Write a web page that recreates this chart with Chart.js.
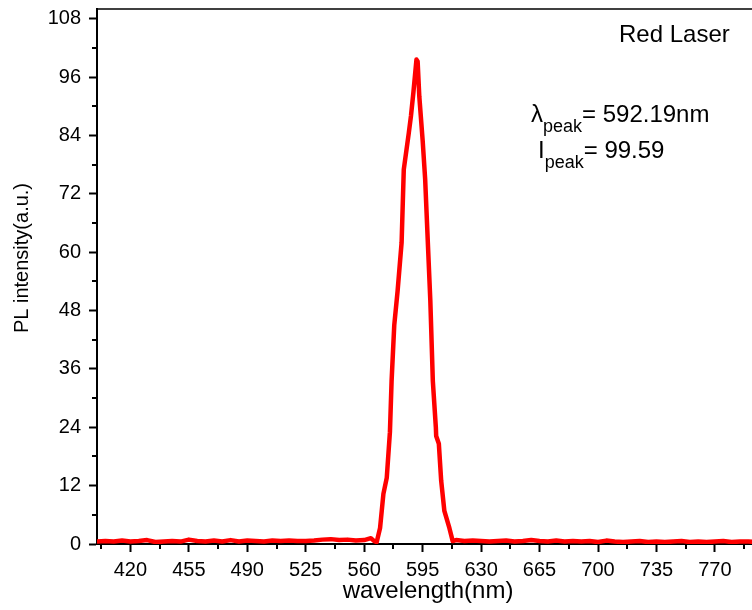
<!DOCTYPE html>
<html>
<head>
<meta charset="utf-8">
<title>Red Laser PL</title>
<script src="https://cdn.jsdelivr.net/npm/chart.js@4.4.1/dist/chart.umd.min.js"></script>
<style>
  html, body { margin: 0; padding: 0; overflow: hidden; background: #fff; }
  #wrap { width: 775px; height: 610px; position: relative; }
</style>
</head>
<body>
<div id="wrap"><canvas id="pl-chart"></canvas></div>
<script>
// données
const wavelength = [
  400, 405, 410, 415, 420, 425, 430, 435, 440, 445, 450, 455, 460, 465, 470, 475,
  480, 485, 490, 495, 500, 505, 510, 515, 520, 525, 530, 535, 540, 545, 550, 555,
  560, 564, 566, 567.5, 569.5, 571.5, 573.5, 575.4, 576.4, 578, 580, 582.4, 583.7,
  586.7, 588, 589.5, 591.3, 592, 593, 595, 596.5, 598.1, 599.6, 601.1, 602.9, 603.1,
  604.7, 606.1, 608, 611, 613, 615, 620, 625, 630, 635, 640, 645, 650, 655, 660,
  665, 670, 675, 680, 685, 690, 695, 700, 705, 710, 715, 720, 725, 730, 735, 740,
  745, 750, 755, 760, 765, 770, 775, 780, 785, 790, 795, 800
];
const intensity = [
  0.5, 0.6, 0.5, 0.7, 0.5, 0.6, 0.8, 0.4, 0.5, 0.6, 0.5, 0.9, 0.6, 0.5, 0.7, 0.5,
  0.8, 0.5, 0.7, 0.6, 0.5, 0.7, 0.6, 0.7, 0.6, 0.6, 0.7, 0.9, 1.0, 0.8, 0.9, 0.7,
  0.8, 1.2, 0.6, 0.4, 3.3, 10.3, 13.6, 23, 33.5, 45, 52, 62, 77,
  84.5, 88, 93, 99.6, 99.2, 92, 83, 75, 62, 50, 33.5, 24, 22.2,
  20.6, 13, 6.8, 3.3, 0.6, 0.8, 0.6, 0.7, 0.6, 0.5, 0.6, 0.7, 0.5, 0.6, 0.8,
  0.6, 0.5, 0.7, 0.5, 0.6, 0.5, 0.6, 0.4, 0.7, 0.5, 0.4, 0.5, 0.6, 0.4, 0.5, 0.4,
  0.5, 0.6, 0.4, 0.5, 0.4, 0.5, 0.6, 0.4, 0.5, 0.5, 0.4, 0.5
];
const xTicks = [420, 455, 490, 525, 560, 595, 630, 665, 700, 735, 770];
const xMinorTicks = [402.5, 437.5, 472.5, 507.5, 542.5, 577.5, 612.5, 647.5, 682.5, 717.5, 752.5, 787.5];
const yTicks = [0, 12, 24, 36, 48, 60, 72, 84, 96, 108];
const yMinorTicks = [6, 18, 30, 42, 54, 66, 78, 90, 102];

const FONT = "'Liberation Sans', Arial, sans-serif";

// ticks mineurs, cadre du haut, titres et annotations
const decorPlugin = {
  id: "decor",
  afterDraw(chart) {
    const { ctx, chartArea: a, scales: { x, y } } = chart;
    ctx.save();
    ctx.strokeStyle = "#000";
    ctx.lineWidth = 2;
    ctx.beginPath();
    xMinorTicks.forEach(v => {
      const px = Math.round(x.getPixelForValue(v));
      ctx.moveTo(px, a.bottom);
      ctx.lineTo(px, a.bottom + 5);
    });
    yMinorTicks.forEach(v => {
      const py = Math.round(y.getPixelForValue(v));
      ctx.moveTo(a.left, py);
      ctx.lineTo(a.left - 5, py);
    });
    ctx.stroke();

    ctx.lineWidth = 1.5;
    ctx.beginPath();
    ctx.moveTo(a.left, a.top);
    ctx.lineTo(a.right, a.top);
    ctx.stroke();

    ctx.fillStyle = "#000";
    ctx.textBaseline = "alphabetic";

    // titres des axes
    ctx.font = "24px " + FONT;
    ctx.textAlign = "center";
    ctx.fillText("wavelength(nm)", 428, 598);
    ctx.save();
    ctx.translate(28, 258);
    ctx.rotate(-Math.PI / 2);
    ctx.font = "20px " + FONT;
    ctx.fillText("PL intensity(a.u.)", 0, 0);
    ctx.restore();

    ctx.textAlign = "left";
    ctx.font = "24px " + FONT;
    ctx.fillText("Red Laser", 619, 42);

    function sub(main, s, rest, x0, base) {
      ctx.font = "24px " + FONT;
      ctx.fillText(main, x0, base);
      let cx = x0 + ctx.measureText(main).width;
      ctx.font = "18px " + FONT;
      ctx.fillText(s, cx, base + 10);
      cx += ctx.measureText(s).width;
      ctx.font = "24px " + FONT;
      ctx.fillText(rest, cx, base);
    }
    sub("\u03bb", "peak", "= 592.19nm", 531, 122);
    sub("I", "peak", "= 99.59", 538, 158);
    ctx.restore();
  }
};

const ctx = document.getElementById("pl-chart").getContext("2d");
new Chart(ctx, {
  type: "line",
  data: {
    datasets: [{
      data: wavelength.map((w, i) => ({ x: w, y: intensity[i] })),
      borderColor: "#ff0000",
      borderWidth: 4.5,
      borderJoinStyle: "round",
      borderCapStyle: "round",
      pointRadius: 0,
      tension: 0,
      fill: false
    }]
  },
  options: {
    responsive: true,
    maintainAspectRatio: false,
    animation: false,
    layout: { padding: { top: 9, right: 10, left: 0, bottom: 0 } },
    plugins: { legend: { display: false }, tooltip: { enabled: false } },
    scales: {
      x: {
        type: "linear",
        min: 400,
        max: 800,
        afterBuildTicks: s => { s.ticks = xTicks.map(v => ({ value: v })); },
        afterFit: s => { s.height = 66; s.paddingLeft = 0; s.paddingRight = 0; },
        ticks: { color: "#000", font: { family: FONT, size: 20 }, padding: 6, maxRotation: 0 },
        grid: { drawOnChartArea: false, tickLength: 8, tickWidth: 2, tickColor: "#000" },
        border: { color: "#000", width: 2 }
      },
      y: {
        min: 0,
        max: 110,
        afterBuildTicks: s => { s.ticks = yTicks.map(v => ({ value: v })); },
        afterFit: s => { s.width = 97; s.paddingTop = 0; s.paddingBottom = 0; },
        ticks: { color: "#000", font: { family: FONT, size: 20 }, padding: 8 },
        grid: { drawOnChartArea: false, tickLength: 8, tickWidth: 2, tickColor: "#000" },
        border: { color: "#000", width: 2 }
      }
    }
  },
  plugins: [decorPlugin]
});
</script>
</body>
</html>
